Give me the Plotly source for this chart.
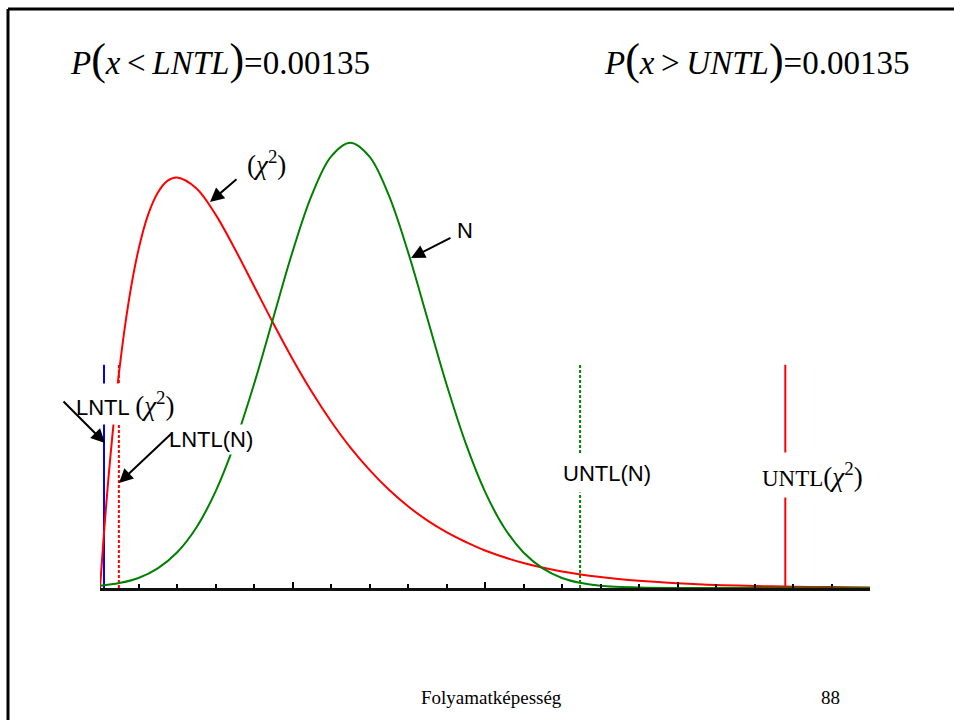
import plotly.graph_objects as go

# ---- data (density curves) ----
x_chi = [0, 0.1, 0.25, 0.5, 0.75, 1, 1.25, 1.5, 1.75, 2, 2.5, 3, 3.5, 4, 4.5, 5, 5.5,
         6, 6.5, 7, 7.5, 8, 8.5, 9, 9.5, 10, 11, 12, 13, 14, 15, 16, 17, 18, 19, 20]
y_chi = [0, 0.0238, 0.0552, 0.0974, 0.1289, 0.1516, 0.1673, 0.1771, 0.1824, 0.1839,
         0.1791, 0.1674, 0.1520, 0.1353, 0.1186, 0.1026, 0.0879, 0.0747, 0.0630, 0.0529,
         0.0441, 0.0366, 0.0303, 0.0250, 0.0206, 0.0168, 0.0112, 0.0074, 0.0049, 0.0032,
         0.0021, 0.0013, 0.0009, 0.0006, 0.0004, 0.0002]

x_norm = [0, 0.5, 1, 1.5, 2, 2.5, 3, 3.5, 4, 4.5, 5, 5.5, 6, 6.5, 7, 7.5, 8, 8.5, 9,
          9.5, 10, 10.5, 11, 11.5, 12, 12.5, 13, 14, 15, 16, 18, 20]
y_norm = [0.0010, 0.0022, 0.0045, 0.0088, 0.0159, 0.0270, 0.0432, 0.0648, 0.0913,
          0.1210, 0.1506, 0.1760, 0.1933, 0.1995, 0.1933, 0.1760, 0.1506, 0.1210,
          0.0913, 0.0648, 0.0432, 0.0270, 0.0159, 0.0088, 0.0045, 0.0022, 0.0010,
          0.0002, 0.0000, 0.0000, 0.0000, 0.0000]

# tolerance limits
lntl_chi2 = 0.104
lntl_n = 0.49
untl_n = 12.47
untl_chi2 = 17.8
limit_top = 0.1

formula_left = ("<i>P</i><span style='font-size:44px'>(</span><i>x</i>\u2009&lt;\u2009<i>LNTL</i>"
                "<span style='font-size:44px'>)</span>=0.00135")
formula_right = ("<i>P</i><span style='font-size:44px'>(</span><i>x</i>\u2009&gt;\u2009<i>UNTL</i>"
                 "<span style='font-size:44px'>)</span>=0.00135")
footer_title = "Folyamatképesség"
footer_page = "88"

SERIF = "Liberation Serif"
SANS = "Liberation Sans"
chi_html = "(<i>χ</i><sup>2</sup>)"

# ---- layout helpers (pixel -> paper) ----
L, R, T, B = 100, 84, 30, 132
W, H = 954, 720
PW, PH = W - L - R, H - T - B


def px(x):
    return (x - L) / PW


def py(y):
    return (H - B - y) / PH


fig = go.Figure()

# vertical limit lines
fig.add_trace(go.Scatter(x=[lntl_chi2, lntl_chi2], y=[0, limit_top], mode="lines",
                         line=dict(color="#0000ff", width=2), cliponaxis=False))
fig.add_trace(go.Scatter(x=[lntl_n, lntl_n], y=[0, limit_top], mode="lines",
                         line=dict(color="#ff0000", width=2, dash="3px,2px"), cliponaxis=False))
fig.add_trace(go.Scatter(x=[untl_n, untl_n], y=[0, limit_top], mode="lines",
                         line=dict(color="#008000", width=2, dash="3px,2px"), cliponaxis=False))
fig.add_trace(go.Scatter(x=[untl_chi2, untl_chi2], y=[0, limit_top], mode="lines",
                         line=dict(color="#ff0000", width=2), cliponaxis=False))

# curves
fig.add_trace(go.Scatter(x=x_chi, y=y_chi, mode="lines", line_shape="spline",
                         line=dict(color="#ff0000", width=2), cliponaxis=False))
fig.add_trace(go.Scatter(x=x_norm, y=y_norm, mode="lines", line_shape="spline",
                         line=dict(color="#008000", width=2), cliponaxis=False))

ann = []
# formulas
ann.append(dict(xref="paper", yref="paper", x=px(68), y=py(59), xanchor="left", yanchor="middle",
                text=formula_left, showarrow=False, font=dict(family=SERIF, size=33, color="black")))
ann.append(dict(xref="paper", yref="paper", x=px(602), y=py(59), xanchor="left", yanchor="middle",
                text=formula_right, showarrow=False, font=dict(family=SERIF, size=33, color="black")))
# footer
ann.append(dict(xref="paper", yref="paper", x=px(492), y=py(697), xanchor="center", yanchor="middle",
                text=footer_title, showarrow=False, font=dict(family=SERIF, size=19, color="black")))
ann.append(dict(xref="paper", yref="paper", x=px(830), y=py(697), xanchor="center", yanchor="middle",
                text=footer_page, showarrow=False, font=dict(family=SERIF, size=19, color="black")))

# labels
ann.append(dict(xref="paper", yref="paper", x=px(266), y=py(163), xanchor="center", yanchor="middle",
                text=chi_html, showarrow=False, font=dict(family=SERIF, size=27, color="black")))
ann.append(dict(xref="paper", yref="paper", x=px(465), y=py(230), xanchor="center", yanchor="middle",
                text="N", showarrow=False, font=dict(family=SANS, size=22, color="black")))
ann.append(dict(xref="paper", yref="paper", x=px(72), y=py(404), xanchor="left", yanchor="middle",
                text="LNTL<span style='font-family:Liberation Serif;font-size:27px'>\u2009" + chi_html + "</span>",
                showarrow=False, bgcolor="white", borderpad=3,
                font=dict(family=SANS, size=22, color="black")))
ann.append(dict(xref="paper", yref="paper", x=px(211), y=py(440), xanchor="center", yanchor="middle",
                text="LNTL(N)", showarrow=False, bgcolor="white", borderpad=2,
                font=dict(family=SANS, size=22, color="black")))
ann.append(dict(xref="paper", yref="paper", x=px(607), y=py(473), xanchor="center", yanchor="middle",
                text="UNTL(N)", showarrow=False, bgcolor="white", borderpad=6,
                font=dict(family=SANS, size=22, color="black")))
ann.append(dict(xref="paper", yref="paper", x=px(756), y=py(475), xanchor="left", yanchor="middle",
                text="UNTL<span style='font-size:27px'>" + chi_html + "</span>", showarrow=False,
                bgcolor="white", borderpad=5,
                font=dict(family=SERIF, size=23, color="black")))

# arrows (tip in data coords, tail as pixel offset)
def arrow(xd, yd, ax, ay):
    return dict(xref="x", yref="y", x=xd, y=yd, ax=ax, ay=ay, text="", showarrow=True,
                arrowhead=2, arrowsize=1.4, arrowwidth=2, arrowcolor="black", standoff=0)

ann.append(arrow((210 - L) / 38.5, (588 - 202) / 2232, 28, -24))
ann.append(arrow((411 - L) / 38.5, (588 - 258) / 2232, 41, -21))
ann.append(arrow((105 - L) / 38.5, (588 - 443) / 2232, -43, -43))
ann.append(arrow((119 - L) / 38.5, (588 - 483) / 2232, 54, -51))

# slide border (top and left edges)
shapes = [
    dict(type="line", xref="paper", yref="paper", x0=px(8), x1=px(970), y0=py(9), y1=py(9),
         line=dict(color="black", width=3)),
    dict(type="line", xref="paper", yref="paper", x0=px(8), x1=px(8), y0=py(9), y1=py(740),
         line=dict(color="black", width=3)),
]

fig.update_layout(
    width=W, height=H, autosize=False,
    margin=dict(l=L, r=R, t=T, b=B),
    paper_bgcolor="white", plot_bgcolor="white",
    showlegend=False,
    annotations=ann, shapes=shapes,
    xaxis=dict(range=[0, 20], showgrid=False, zeroline=False, showticklabels=False,
               showline=True, linecolor="#111111", linewidth=2.5,
               ticks="inside", ticklen=6, tickwidth=2, tickcolor="black", dtick=5, tick0=0,
               minor=dict(ticks="inside", ticklen=4, tickwidth=1.5, tickcolor="black", dtick=1),
               fixedrange=True),
    yaxis=dict(range=[0, PH / 2232], visible=False, showgrid=False, zeroline=False, fixedrange=True),
)

fig.write_html("out.html", config={"displayModeBar": False})
